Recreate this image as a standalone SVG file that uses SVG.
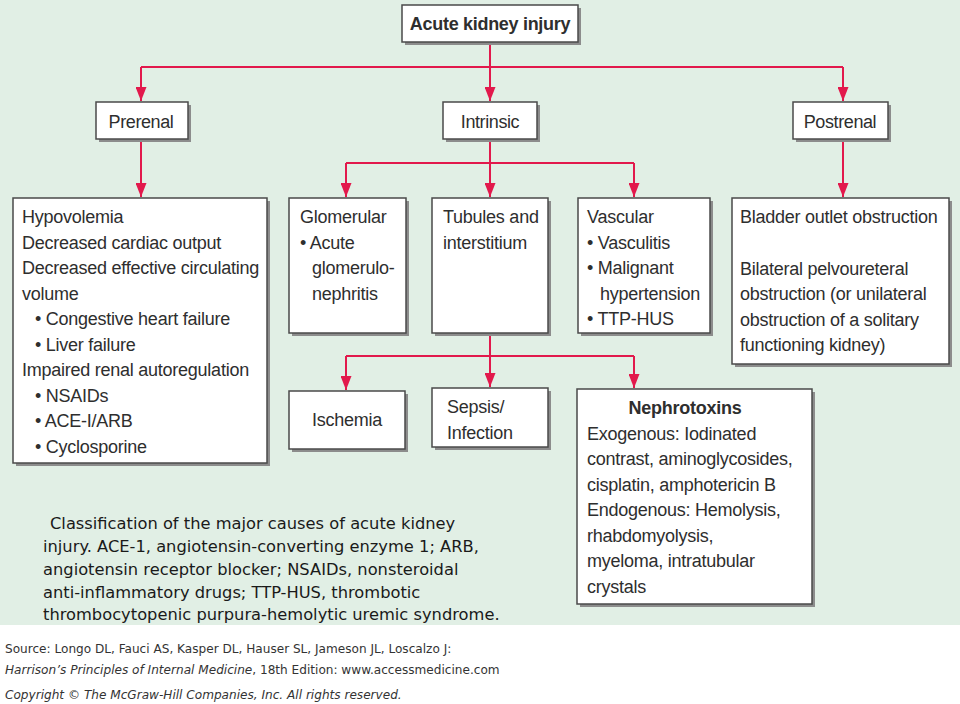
<svg xmlns="http://www.w3.org/2000/svg" width="960" height="704" viewBox="0 0 960 704">
<defs>
<marker id="ah" markerUnits="userSpaceOnUse" markerWidth="14" markerHeight="11" refX="14" refY="5.5" orient="auto">
<path d="M0,0 L14,5.5 L0,11 z" fill="#e2194c"/>
</marker>
</defs>
<style>
.bg{fill:#e1efe5}
.sh{fill:#8c8c8c}
.bx{fill:#ffffff;stroke:#4a4a4a;stroke-width:1.5}
.t{font-family:"Liberation Sans",Arial,sans-serif;font-size:18px;letter-spacing:-0.25px;fill:#2e2e2e}
.h{font-family:"Liberation Sans",Arial,sans-serif;font-size:18px;letter-spacing:-0.4px;fill:#2e2e2e}
.b{font-weight:bold}
.c{text-anchor:middle}
.ln{fill:none;stroke:#e2194c;stroke-width:2}
.ar{marker-end:url(#ah)}
.cap{font-family:"DejaVu Sans",Verdana,sans-serif;font-size:16.3px;fill:#1a1a1a}
.src{font-family:"DejaVu Sans",Verdana,sans-serif;font-size:12.1px;fill:#333333}
</style>
<rect class="bg" x="0" y="0" width="960" height="625"/>
<rect x="0" y="625" width="960" height="79" fill="#ffffff"/>

<g id="connectors">
<path class="ln ar" d="M490,42 V101"/>
<path class="ln" d="M141,67 H843"/>
<path class="ln ar" d="M141,67 V101"/>
<path class="ln ar" d="M843,67 V101"/>
<path class="ln ar" d="M141,139 V197"/>
<path class="ln ar" d="M843,139 V197"/>
<path class="ln ar" d="M490,139 V197"/>
<path class="ln" d="M346,163 H634"/>
<path class="ln ar" d="M346,163 V197"/>
<path class="ln ar" d="M634,163 V197"/>
<path class="ln ar" d="M490,333 V387"/>
<path class="ln" d="M346,356 H634"/>
<path class="ln ar" d="M346,356 V390"/>
<path class="ln ar" d="M634,356 V388"/>
</g>

<g id="aki">
<rect class="sh" x="405" y="8" width="176" height="37"/>
<rect class="bx" x="402" y="5" width="176" height="37"/>
<text class="h b c" x="490" y="30" style="letter-spacing:-0.3px">Acute kidney injury</text>
</g>

<g id="prerenal">
<rect class="sh" x="99" y="105" width="92" height="37"/>
<rect class="bx" x="96" y="102" width="92" height="37"/>
<text class="h c" x="141" y="128">Prerenal</text>
</g>

<g id="intrinsic">
<rect class="sh" x="446" y="105" width="94" height="37"/>
<rect class="bx" x="443" y="102" width="94" height="37"/>
<text class="h c" x="490" y="128">Intrinsic</text>
</g>

<g id="postrenal">
<rect class="sh" x="796" y="105" width="95" height="37"/>
<rect class="bx" x="793" y="102" width="95" height="37"/>
<text class="h c" x="840" y="128">Postrenal</text>
</g>

<g id="prerenal-causes">
<rect class="sh" x="16" y="201" width="254" height="265"/>
<rect class="bx" x="13" y="198" width="254" height="265"/>
<text class="t" x="22" y="223">Hypovolemia</text>
<text class="t" x="22" y="248.5">Decreased cardiac output</text>
<text class="t" x="22" y="274">Decreased effective circulating</text>
<text class="t" x="22" y="299.5">volume</text>
<text class="t" x="35" y="325">• Congestive heart failure</text>
<text class="t" x="35" y="350.5">• Liver failure</text>
<text class="t" x="22" y="376">Impaired renal autoregulation</text>
<text class="t" x="35" y="401.5">• NSAIDs</text>
<text class="t" x="35" y="427">• ACE-I/ARB</text>
<text class="t" x="35" y="452.5">• Cyclosporine</text>
</g>

<g id="glomerular">
<rect class="sh" x="292" y="201" width="117" height="135"/>
<rect class="bx" x="289" y="198" width="117" height="135"/>
<text class="t" x="300" y="223">Glomerular</text>
<text class="t" x="300" y="248.5">• Acute</text>
<text class="t" x="312" y="274">glomerulo-</text>
<text class="t" x="312" y="299.5">nephritis</text>
</g>

<g id="tubules">
<rect class="sh" x="435" y="201" width="116" height="135"/>
<rect class="bx" x="432" y="198" width="116" height="135"/>
<text class="t" x="443" y="223">Tubules and</text>
<text class="t" x="443" y="248.5">interstitium</text>
</g>

<g id="vascular">
<rect class="sh" x="581" y="201" width="132" height="135"/>
<rect class="bx" x="578" y="198" width="132" height="135"/>
<text class="t" x="587" y="223">Vascular</text>
<text class="t" x="587" y="248.5">• Vasculitis</text>
<text class="t" x="587" y="274">• Malignant</text>
<text class="t" x="600" y="299.5">hypertension</text>
<text class="t" x="587" y="325">• TTP-HUS</text>
</g>

<g id="postrenal-causes">
<rect class="sh" x="735" y="201" width="217" height="166"/>
<rect class="bx" x="732" y="198" width="217" height="166"/>
<text class="t" x="740" y="223">Bladder outlet obstruction</text>
<text class="t" x="740" y="274.5">Bilateral pelvoureteral</text>
<text class="t" x="740" y="300">obstruction (or unilateral</text>
<text class="t" x="740" y="325.5">obstruction of a solitary</text>
<text class="t" x="740" y="351">functioning kidney)</text>
</g>

<g id="ischemia">
<rect class="sh" x="292" y="394" width="116" height="58"/>
<rect class="bx" x="289" y="391" width="116" height="58"/>
<text class="t c" x="347" y="426">Ischemia</text>
</g>

<g id="sepsis">
<rect class="sh" x="435" y="391" width="116" height="59"/>
<rect class="bx" x="432" y="388" width="116" height="59"/>
<text class="t" x="447" y="413">Sepsis/</text>
<text class="t" x="447" y="438.5">Infection</text>
</g>

<g id="nephrotoxins">
<rect class="sh" x="580" y="392" width="235" height="215"/>
<rect class="bx" x="577" y="389" width="235" height="215"/>
<text class="t b c" x="685" y="414">Nephrotoxins</text>
<text class="t" x="587" y="439.5">Exogenous: Iodinated</text>
<text class="t" x="587" y="465">contrast, aminoglycosides,</text>
<text class="t" x="587" y="490.5">cisplatin, amphotericin B</text>
<text class="t" x="587" y="516">Endogenous: Hemolysis,</text>
<text class="t" x="587" y="541.5">rhabdomyolysis,</text>
<text class="t" x="587" y="567">myeloma, intratubular</text>
<text class="t" x="587" y="592.5">crystals</text>
</g>

<g id="caption">
<text class="cap" x="50" y="529">Classification of the major causes of acute kidney</text>
<text class="cap" x="43" y="552">injury. ACE-1, angiotensin-converting enzyme 1; ARB,</text>
<text class="cap" x="43" y="575">angiotensin receptor blocker; NSAIDs, nonsteroidal</text>
<text class="cap" x="43" y="598">anti-inflammatory drugs; TTP-HUS, thrombotic</text>
<text class="cap" x="43" y="620">thrombocytopenic purpura-hemolytic uremic syndrome.</text>
</g>

<g id="source">
<text class="src" x="5" y="653">Source: Longo DL, Fauci AS, Kasper DL, Hauser SL, Jameson JL, Loscalzo J:</text>
<text class="src" x="5" y="674"><tspan font-style="italic">Harrison’s Principles of Internal Medicine</tspan>, 18th Edition: www.accessmedicine.com</text>
<text class="src" x="5" y="699" font-style="italic">Copyright © The McGraw-Hill Companies, Inc. All rights reserved.</text>
</g>
</svg>
